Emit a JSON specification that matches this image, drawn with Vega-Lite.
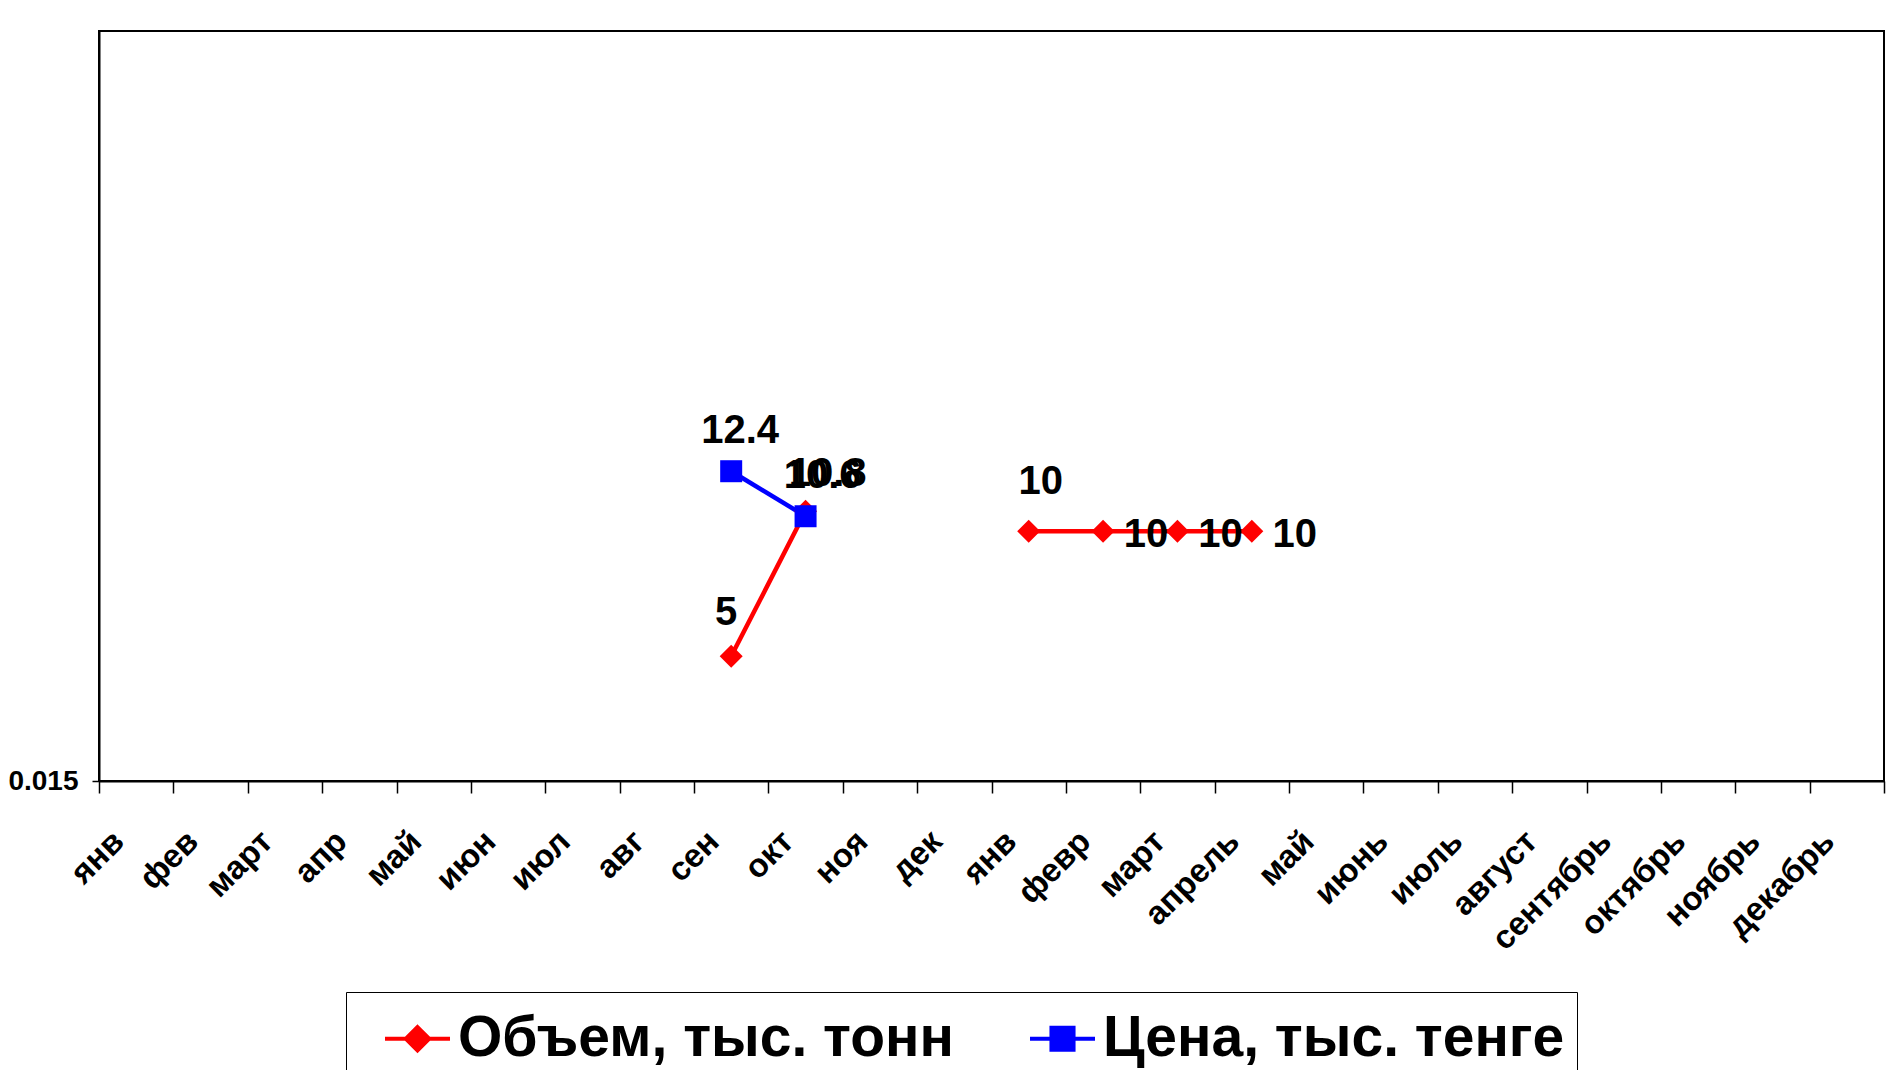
{
  "$schema": "https://vega.github.io/schema/vega-lite/v6.json",
  "description": "Объем и цена по месяцам",
  "width": 1785,
  "height": 750,
  "autosize": {"type": "none"},
  "padding": {"left": 99, "top": 31, "right": 2, "bottom": 289},
  "background": "white",
  "config": {
    "font": "Liberation Sans",
    "view": {"stroke": "black", "strokeWidth": 2}
  },
  "data": {
    "values": [
      {"i": 9, "series": "Объем, тыс. тонн", "v": 5},
      {"i": 10, "series": "Объем, тыс. тонн", "v": 10.8},
      {"i": 11, "series": "Объем, тыс. тонн", "v": null},
      {"i": 13, "series": "Объем, тыс. тонн", "v": 10},
      {"i": 14, "series": "Объем, тыс. тонн", "v": 10},
      {"i": 15, "series": "Объем, тыс. тонн", "v": 10},
      {"i": 16, "series": "Объем, тыс. тонн", "v": 10},
      {"i": 9, "series": "Цена, тыс. тенге", "v": 12.4},
      {"i": 10, "series": "Цена, тыс. тенге", "v": 10.6}
    ]
  },
  "encoding": {
    "x": {
      "field": "i",
      "type": "ordinal",
      "scale": {"type": "band", "domain": [1,2,3,4,5,6,7,8,9,10,11,12,13,14,15,16,17,18,19,20,21,22,23,24], "paddingInner": 0, "paddingOuter": 0},
      "axis": {
        "title": null,
        "labelExpr": "['янв','фев','март','апр','май','июн','июл','авг','сен','окт','ноя','дек','янв','февр','март','апрель','май','июнь','июль','август','сентябрь','октябрь','ноябрь','декабрь'][datum.value - 1]",
        "tickBand": "extent",
        "labelAngle": -45,
        "labelAlign": "right",
        "labelBaseline": "middle",
        "labelFont": "Liberation Sans",
        "labelFontSize": 33,
        "labelFontWeight": "bold",
        "labelColor": "black",
        "labelPadding": 43,
        "labelOffset": -18,
        "labelOverlap": false,
        "labelBound": false,
        "tickSize": 12,
        "tickColor": "black",
        "tickWidth": 1.5,
        "domainColor": "black",
        "domainWidth": 2,
        "grid": false
      }
    },
    "y": {
      "field": "v",
      "type": "quantitative",
      "scale": {"domain": [0.015, 30], "nice": false, "zero": false},
      "axis": {
        "title": null,
        "values": [0.015],
        "format": ".3f",
        "labelFont": "Liberation Sans",
        "labelFontSize": 28,
        "labelFontWeight": "bold",
        "labelColor": "black",
        "labelPadding": 14,
        "tickSize": 7,
        "tickColor": "black",
        "tickWidth": 1.5,
        "domainColor": "black",
        "domainWidth": 2,
        "grid": false
      }
    },
    "color": {
      "field": "series",
      "type": "nominal",
      "scale": {"domain": ["Объем, тыс. тонн", "Цена, тыс. тенге"], "range": ["#ff0000", "#0000ff"]},
      "legend": {
        "title": null,
        "orient": "none",
        "legendX": 247,
        "legendY": 961,
        "direction": "horizontal",
        "strokeColor": "black",
        "fillColor": "white",
        "padding": 12,
        "symbolOffset": 25,
        "symbolType": "circle",
        "symbolSize": 4225,
        "symbolStrokeWidth": 4,
        "labelFont": "Liberation Sans",
        "labelFontSize": 57,
        "labelFontWeight": "bold",
        "labelColor": "black",
        "labelLimit": 1000,
        "labelOffset": 6,
        "columnPadding": 49,
        "encode": {
          "symbols": {
            "update": {
              "shape": {"signal": "datum.value === 'Объем, тыс. тонн' ? 'M-1,0L1,0M0,-0.36L0.36,0L0,0.36L-0.36,0Z' : 'M-1,0L1,0M-0.34,-0.34L0.34,-0.34L0.34,0.34L-0.34,0.34Z'"},
              "fill": {"scale": "color", "field": "value"},
              "stroke": {"scale": "color", "field": "value"},
              "strokeWidth": {"value": 4},
              "size": {"value": 4225},
              "opacity": {"value": 1}
            }
          }
        }
      }
    }
  },
  "layer": [
    {
      "mark": {"type": "line", "strokeWidth": 4.5}
    },
    {
      "transform": [{"filter": "datum.series === 'Объем, тыс. тонн' && datum.v != null"}],
      "mark": {"type": "point", "shape": "diamond", "filled": true, "size": 529, "opacity": 1}
    },
    {
      "transform": [{"filter": "datum.series === 'Цена, тыс. тенге'"}],
      "mark": {"type": "point", "shape": "square", "filled": true, "size": 484, "opacity": 1}
    },
    {
      "transform": [{"filter": "datum.series === 'Объем, тыс. тонн' && datum.i == 9"}],
      "mark": {"type": "text", "dx": -5, "dy": -43, "fontSize": 40, "fontWeight": "bold"},
      "encoding": {"text": {"field": "v", "type": "quantitative"}, "color": {"value": "black"}}
    },
    {
      "transform": [{"filter": "datum.series === 'Цена, тыс. тенге' && datum.i == 9"}],
      "mark": {"type": "text", "dx": 9, "dy": -40, "fontSize": 40, "fontWeight": "bold"},
      "encoding": {"text": {"field": "v", "type": "quantitative"}, "color": {"value": "black"}}
    },
    {
      "transform": [{"filter": "datum.series === 'Цена, тыс. тенге' && datum.i == 10"}],
      "mark": {"type": "text", "dx": 17, "dy": -40, "fontSize": 40, "fontWeight": "bold"},
      "encoding": {"text": {"field": "v", "type": "quantitative"}, "color": {"value": "black"}}
    },
    {
      "transform": [{"filter": "datum.series === 'Объем, тыс. тонн' && datum.i == 10"}],
      "mark": {"type": "text", "dx": 22, "dy": -37, "fontSize": 40, "fontWeight": "bold"},
      "encoding": {"text": {"field": "v", "type": "quantitative"}, "color": {"value": "black"}}
    },
    {
      "transform": [{"filter": "datum.series === 'Объем, тыс. тонн' && datum.i == 13"}],
      "mark": {"type": "text", "dx": 12, "dy": -49, "fontSize": 40, "fontWeight": "bold"},
      "encoding": {"text": {"field": "v", "type": "quantitative"}, "color": {"value": "black"}}
    },
    {
      "transform": [{"filter": "datum.series === 'Объем, тыс. тонн' && datum.i >= 14"}],
      "mark": {"type": "text", "dx": 43, "dy": 4, "fontSize": 40, "fontWeight": "bold"},
      "encoding": {"text": {"field": "v", "type": "quantitative"}, "color": {"value": "black"}}
    }
  ]
}
